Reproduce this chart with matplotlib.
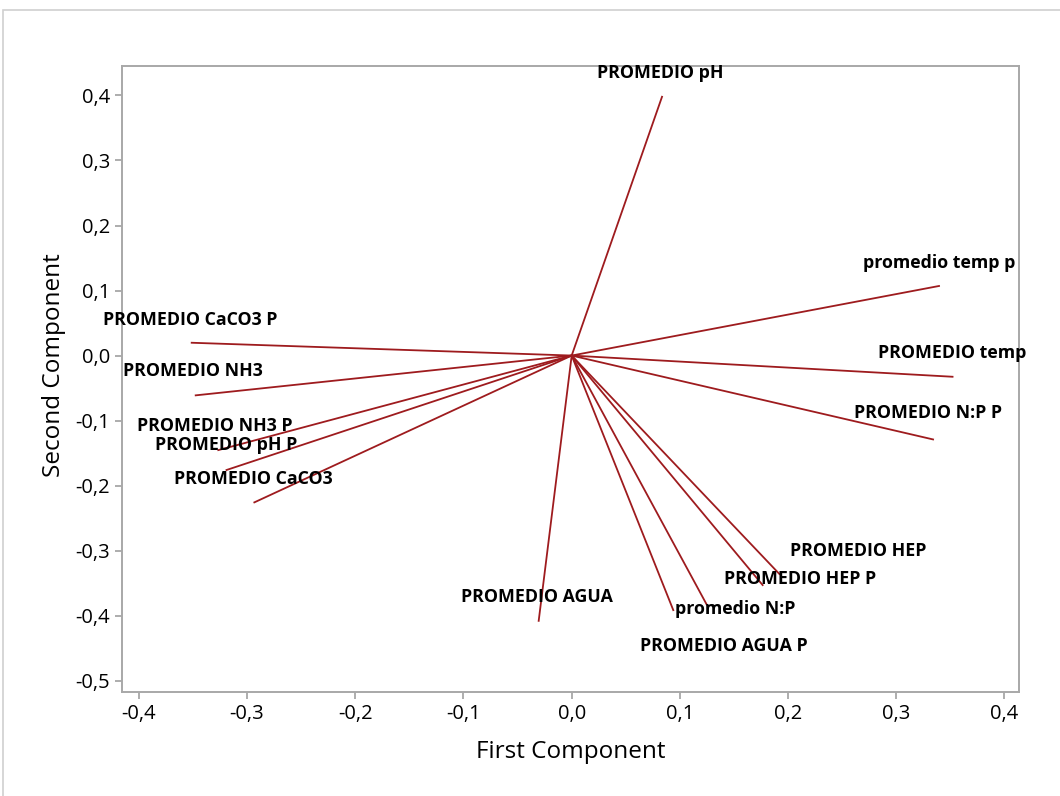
import matplotlib.pyplot as plt
from matplotlib.ticker import FuncFormatter
from matplotlib.patches import Rectangle

# =========================
# Loadings (PC1, PC2)
# =========================
variables = ["PROMEDIO pH", "promedio temp p", "PROMEDIO temp", "PROMEDIO N:P P",
             "PROMEDIO HEP", "PROMEDIO HEP P", "promedio N:P", "PROMEDIO AGUA P",
             "PROMEDIO AGUA", "PROMEDIO CaCO3 P", "PROMEDIO NH3", "PROMEDIO NH3 P",
             "PROMEDIO pH P", "PROMEDIO CaCO3"]
pc1 = [0.0835, 0.3395, 0.352, 0.334,
       0.192, 0.1765, 0.1248, 0.0939,
       -0.0305, -0.3512, -0.3475, -0.3266,
       -0.319, -0.2933]
pc2 = [0.398, 0.107, -0.0326, -0.129,
       -0.336, -0.353, -0.383, -0.3915,
       -0.408, 0.0197, -0.0612, -0.1454,
       -0.176, -0.2258]

# label placement (data coords)
label_x = [0.0816, 0.340, 0.352, 0.329,
           0.2647, 0.211, 0.151, 0.141,
           -0.032, -0.3527, -0.350, -0.3296,
           -0.3195, -0.2945]
label_y = [0.4346, 0.142, 0.0038, -0.088,
           -0.3008, -0.344, -0.390, -0.447,
           -0.3715, 0.0546, -0.024, -0.108,
           -0.1377, -0.190]

xticks = [-0.4, -0.3, -0.2, -0.1, 0.0, 0.1, 0.2, 0.3, 0.4]
yticks = [-0.5, -0.4, -0.3, -0.2, -0.1, 0.0, 0.1, 0.2, 0.3, 0.4]

plt.rcParams['font.family'] = ['Open Sans', 'DejaVu Sans']

fig = plt.figure(figsize=(10.6, 7.96), dpi=100)
fig.patches.append(Rectangle((0.003, -0.01), 1.1, 0.998, transform=fig.transFigure,
                             fill=False, edgecolor='#d0d0d0', linewidth=1.2))
ax = fig.add_axes([0.1151, 0.131, 0.8462, 0.7855])

line_color = '#9E1B1E'
for x, y in zip(pc1, pc2):
    ax.plot([0, x], [0, y], color=line_color, linewidth=1.3)

for name, lx, ly in zip(variables, label_x, label_y):
    ax.text(lx, ly, name, ha='center', va='center', fontsize=12.8,
            fontweight='bold', color='black')

ax.set_xlim(-0.4156, 0.4134)
ax.set_ylim(-0.517, 0.4446)
ax.set_xticks(xticks)
ax.set_yticks(yticks)
fmt = FuncFormatter(lambda v, p: f"{v:.1f}".replace('.', ',').replace('-0,0', '0,0'))
ax.xaxis.set_major_formatter(fmt)
ax.yaxis.set_major_formatter(fmt)
ax.tick_params(axis='both', colors='#a0a0a0', labelcolor='black', labelsize=14.5,
               length=5, width=1.2, direction='out')

for s in ax.spines.values():
    s.set_color('#a8a8a8')
    s.set_linewidth(1.4)

ax.set_xlabel('First Component', fontsize=17.5, labelpad=12)
ax.set_ylabel('Second Component', fontsize=17.5)
ax.yaxis.set_label_coords(-0.062, 0.523)

fig.savefig('out.png', dpi=100)
